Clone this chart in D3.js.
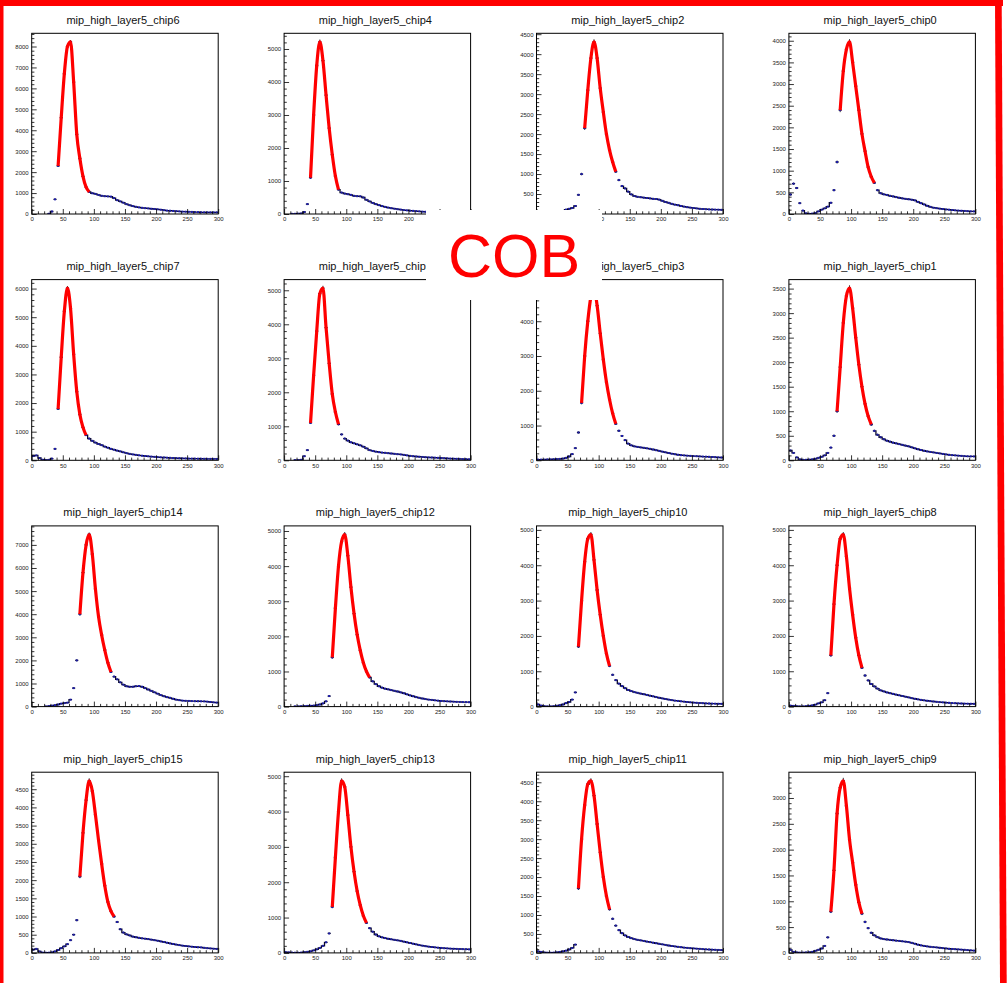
<!DOCTYPE html>
<html>
<head>
<meta charset="utf-8">
<script src="https://cdn.jsdelivr.net/npm/d3@7"></script>
<style>
  body { margin: 0; background: #fff; }
  svg { display: block; }
</style>
</head>
<body>
<svg id="canvas" width="1007" height="983"></svg>
<script>
// Pad order on the canvas, left to right, top to bottom
const chipOrder = [6, 4, 2, 0, 7, 5, 3, 1, 14, 12, 10, 8, 15, 13, 11, 9];
const titlePrefix = "mip_high_layer5_chip";
const binWidth = 5;               // ADC units per bin, 60 bins over 0..300
const xTicks = [0, 50, 100, 150, 200, 250, 300];
const boardLabel = "COB";

// Bin contents per chip (bin centres 2.5, 7.5, ..., 297.5)
const chip6 = [0,0,0,0,0,10,120,700,2300,4600,6700,8000,8220,6300,3800,2650,1800,1280,1060,990,960,910,870,850,840,830,760,660,600,540,470,420,380,345,315,295,280,265,250,240,225,205,185,165,155,145,135,125,115,110,105,100,92,88,82,80,80,80,78,78];
const chip4 = [0,0,5,5,10,15,60,300,1100,3000,4500,5215,4650,3600,2600,1800,1150,740,650,620,600,580,550,540,535,500,430,380,335,300,270,240,215,195,175,160,145,135,120,110,100,95,88,80,72,68,64,60,57,54,52,50,48,46,44,42,41,40,38,37];
const chip2 = [5,5,5,5,10,15,25,40,70,110,130,150,200,480,1000,2150,3100,3900,4307,3900,3150,2550,2000,1600,1300,1060,850,700,640,560,490,450,430,420,410,400,390,380,375,360,330,300,280,255,235,220,200,185,170,160,150,140,130,125,120,115,112,110,108,105];
const chip0 = [450,700,600,250,80,15,5,10,20,60,100,130,170,260,550,1200,2400,3300,3800,3973,3500,2950,2400,1850,1450,1080,860,720,550,480,455,440,420,405,390,375,360,350,340,330,315,280,250,220,190,165,145,135,125,115,105,100,92,85,80,75,70,66,62,60];
const chip7 = [150,170,80,20,10,15,60,400,1800,3600,5200,6013,5300,3700,2400,1600,1150,880,760,680,620,570,530,480,440,400,370,340,310,280,250,225,205,190,175,160,150,140,130,120,112,105,98,92,86,80,76,72,68,65,62,60,58,56,54,52,50,49,48,47];
const chip5 = [0,0,0,5,5,15,120,300,1100,2500,3800,4900,5061,3900,2850,1950,1420,1060,760,640,580,530,500,470,440,400,350,300,275,255,240,228,220,210,200,190,180,172,160,145,130,120,112,105,98,90,85,82,78,72,67,62,57,52,48,44,40,36,33,30];
const chip3 = [20,20,20,25,25,30,35,40,50,70,110,180,350,800,1650,3000,4000,4700,4950,4450,3650,2900,2250,1750,1350,1050,850,700,580,480,430,400,385,370,360,345,330,310,290,270,250,230,210,190,175,160,148,140,133,127,122,118,113,108,104,100,95,90,85,80];
const chip1 = [200,150,60,20,10,10,15,20,30,50,70,100,150,260,500,1000,1900,2800,3350,3508,3100,2500,1950,1500,1150,900,730,600,520,470,430,400,380,360,345,330,315,300,285,265,245,225,210,195,180,170,160,150,140,130,120,112,105,100,95,90,85,82,80,78];
const chip14 = [0,0,0,0,5,20,40,60,90,130,150,170,300,800,2000,4000,5800,7000,7450,6600,5100,3900,3100,2450,1900,1500,1300,1180,1050,950,880,860,860,880,890,860,800,740,680,620,560,500,450,410,380,340,300,280,260,250,245,240,235,232,230,225,215,200,185,175];
const chip12 = [0,0,0,5,5,10,15,20,25,30,40,60,90,150,300,1400,2800,4000,4700,4900,4300,3400,2650,2050,1600,1250,1000,830,720,640,580,540,510,490,470,450,430,405,380,350,320,295,270,250,230,215,200,190,180,170,160,155,150,145,140,135,132,130,128,125];
const chip10 = [60,30,10,5,5,10,20,40,60,100,130,200,400,1700,3000,4100,4750,4870,4150,3300,2600,2000,1500,1150,900,750,650,580,520,470,440,410,390,370,350,330,310,290,270,250,230,215,200,185,170,160,150,140,130,122,115,108,102,97,92,88,85,82,80,78];
const chip8 = [30,20,10,5,5,10,20,35,55,90,120,180,380,1450,2900,4000,4750,4870,4250,3350,2600,1950,1450,1100,880,740,640,570,510,460,430,400,380,360,340,320,300,280,260,240,222,205,190,178,166,155,145,135,127,120,113,107,101,96,92,88,85,82,80,78];
const chip15 = [90,110,40,10,5,5,15,40,80,130,180,240,350,500,900,2100,3300,4200,4731,4450,3800,3100,2450,1850,1400,1150,1000,850,650,560,510,480,450,430,415,400,390,380,365,350,335,315,300,280,260,245,230,215,200,190,180,170,162,155,150,140,130,122,115,110];
const chip13 = [20,15,10,5,5,10,20,30,45,70,100,140,200,300,550,1300,2700,4000,4870,4700,3900,3000,2300,1750,1350,1050,850,700,600,520,470,440,420,400,385,370,355,340,320,300,280,260,240,222,205,190,178,167,157,148,140,133,127,122,117,113,110,107,104,100];
const chip11 = [40,25,10,5,5,8,15,25,40,60,90,130,220,1700,3000,3900,4450,4539,4150,3400,2650,2000,1500,1150,900,720,600,520,460,420,390,365,345,330,315,300,285,270,255,240,225,210,195,182,170,160,150,140,132,125,118,112,106,100,95,90,86,82,78,75];
const chip9 = [60,20,10,5,5,8,12,20,40,60,85,135,300,800,1600,2700,3200,3333,2850,2200,1750,1320,980,760,600,480,390,340,305,280,268,260,252,245,238,232,225,218,210,195,178,160,145,135,125,118,112,106,100,93,86,80,76,72,68,64,60,55,50,45];

// Landau fit windows [low, high] per chip, ADC units
const fitRange = {
  6: [40, 95], 4: [42, 90], 2: [73, 132], 0: [78, 138],
  7: [40, 88], 5: [41, 92], 3: [70, 130], 1: [76, 134],
  14: [74, 129], 12: [76, 138], 10: [65, 122], 8: [65, 122],
  15: [73, 135], 13: [76, 135], 11: [65, 122], 9: [66, 120]
};

const countsByChip = {
  0: chip0, 1: chip1, 2: chip2, 3: chip3, 4: chip4, 5: chip5, 6: chip6, 7: chip7,
  8: chip8, 9: chip9, 10: chip10, 11: chip11, 12: chip12, 13: chip13, 14: chip14, 15: chip15
};

// ---- layout ----
const svg = d3.select("#canvas");
const font = "'Liberation Sans', Arial, Helvetica, sans-serif";
const frameX0 = 31.7, frameY0 = 33.3;
const colStep = 252.4, rowStep = 246.3;
const frameW = 186.5, frameH = 180.7;

svg.append("rect").attr("width", 1007).attr("height", 983).attr("fill", "#fff");

chipOrder.forEach((id, i) => {
  const col = i % 4, row = Math.floor(i / 4);
  const left = frameX0 + col * colStep;
  const top = frameY0 + row * rowStep;
  const counts = countsByChip[id];
  const bins = counts.map((c, k) => ({ lo: k * binWidth, hi: (k + 1) * binWidth, mid: (k + 0.5) * binWidth, c }));
  const ymax = d3.max(counts) * 1.05;
  const step = ymax < 5000 ? 500 : 1000;

  const x = d3.scaleLinear().domain([0, 300]).range([left, left + frameW]);
  const y = d3.scaleLinear().domain([0, ymax]).range([top + frameH, top]);

  const g = svg.append("g");

  // title
  g.append("text")
    .attr("x", left + frameW / 2 - 2)
    .attr("y", top - 9.5)
    .attr("text-anchor", "middle")
    .attr("font-family", font)
    .attr("font-size", 11)
    .attr("fill", "#111")
    .text(titlePrefix + id);

  // clip to the frame
  const clipId = "clip" + id;
  svg.append("clipPath").attr("id", clipId)
    .append("rect").attr("x", left).attr("y", top).attr("width", frameW).attr("height", frameH);

  const data = g.append("g").attr("clip-path", `url(#${clipId})`);
  const filled = bins.filter(b => b.c > 0);

  // bin-width bars; neighbouring bars are joined only where the step is small,
  // so steep edges read as separate points and the slow tail as a solid trace
  let barPath = "";
  bins.forEach((b, k) => {
    if (b.c <= 0) return;
    const yy = y(b.c);
    const prev = bins[k - 1];
    if (prev && prev.c > 0 && Math.abs(y(prev.c) - yy) < 4) barPath += `L${x(b.lo)},${yy}`;
    else barPath += `M${x(b.lo)},${yy}`;
    barPath += `L${x(b.hi)},${yy}`;
  });
  data.append("path")
    .attr("d", barPath)
    .attr("fill", "none")
    .attr("stroke", "#0a0a28")
    .attr("stroke-width", 1.3);
  // statistical error bars
  data.selectAll("line.v").data(filled).join("line")
    .attr("x1", b => x(b.mid)).attr("x2", b => x(b.mid))
    .attr("y1", b => y(b.c + Math.sqrt(b.c))).attr("y2", b => y(Math.max(0, b.c - Math.sqrt(b.c))))
    .attr("stroke", "#000").attr("stroke-width", 0.8);
  // markers
  data.selectAll("rect.m").data(filled).join("rect")
    .attr("x", b => x(b.mid) - 1).attr("y", b => y(b.c) - 1)
    .attr("width", 2).attr("height", 2)
    .attr("fill", "#1c1ca8");

  // fitted Landau over the fit window
  const [flo, fhi] = fitRange[id];
  const fitBins = bins.filter(b => b.mid >= flo && b.mid <= fhi);
  data.append("path")
    .datum(fitBins)
    .attr("fill", "none")
    .attr("stroke", "#ff0000")
    .attr("stroke-width", 3.2)
    .attr("stroke-linejoin", "round")
    .attr("d", d3.line().x(b => x(b.mid)).y(b => y(b.c)).curve(d3.curveMonotoneX));

  // axes with inward ticks
  const tickStyle = sel => {
    sel.select(".domain").remove();
    sel.selectAll(".tick line").attr("stroke", "#000").attr("stroke-width", 0.8);
    sel.selectAll("text").attr("font-family", font).attr("font-size", 6).attr("fill", "#222");
  };

  const xMinor = d3.range(0, 301, 10).filter(v => v % 50 !== 0);
  g.append("g").attr("transform", `translate(0,${top + frameH})`)
    .call(d3.axisBottom(x).tickValues(xMinor).tickSize(-2.7).tickFormat(""))
    .call(tickStyle);
  g.append("g").attr("transform", `translate(0,${top + frameH})`)
    .call(d3.axisBottom(x).tickValues(xTicks).tickSize(-5).tickPadding(3).tickFormat(d3.format("d")))
    .call(tickStyle);

  const yMajor = d3.range(0, ymax + 1e-6, step);
  const yMinor = d3.range(0, ymax, step / 5).filter(v => Math.abs(v / step - Math.round(v / step)) > 1e-6);
  g.append("g").attr("transform", `translate(${left},0)`)
    .call(d3.axisLeft(y).tickValues(yMinor).tickSize(-2.7).tickFormat(""))
    .call(tickStyle);
  g.append("g").attr("transform", `translate(${left},0)`)
    .call(d3.axisLeft(y).tickValues(yMajor).tickSize(-5).tickPadding(3).tickFormat(d3.format("d")))
    .call(tickStyle);

  // frame
  g.append("rect")
    .attr("x", left).attr("y", top).attr("width", frameW).attr("height", frameH)
    .attr("fill", "none").attr("stroke", "#000").attr("stroke-width", 1);
});

// board label on a white patch
svg.append("rect").attr("x", 426).attr("y", 210).attr("width", 176).attr("height", 90).attr("fill", "#fff");
svg.append("text")
  .attr("x", 514).attr("y", 277)
  .attr("text-anchor", "middle")
  .attr("font-family", font)
  .attr("font-size", 61)
  .attr("fill", "#ff0000")
  .text(boardLabel);

// red outline
const border = svg.append("g").attr("fill", "#ff0000");
border.append("rect").attr("x", 0).attr("y", 0).attr("width", 1003).attr("height", 6);
border.append("rect").attr("x", 0).attr("y", 0).attr("width", 3.5).attr("height", 983);
border.append("path").attr("d", "M995,0 L1001.7,0 L1006.7,983 L1000,983 Z");
</script>
</body>
</html>
